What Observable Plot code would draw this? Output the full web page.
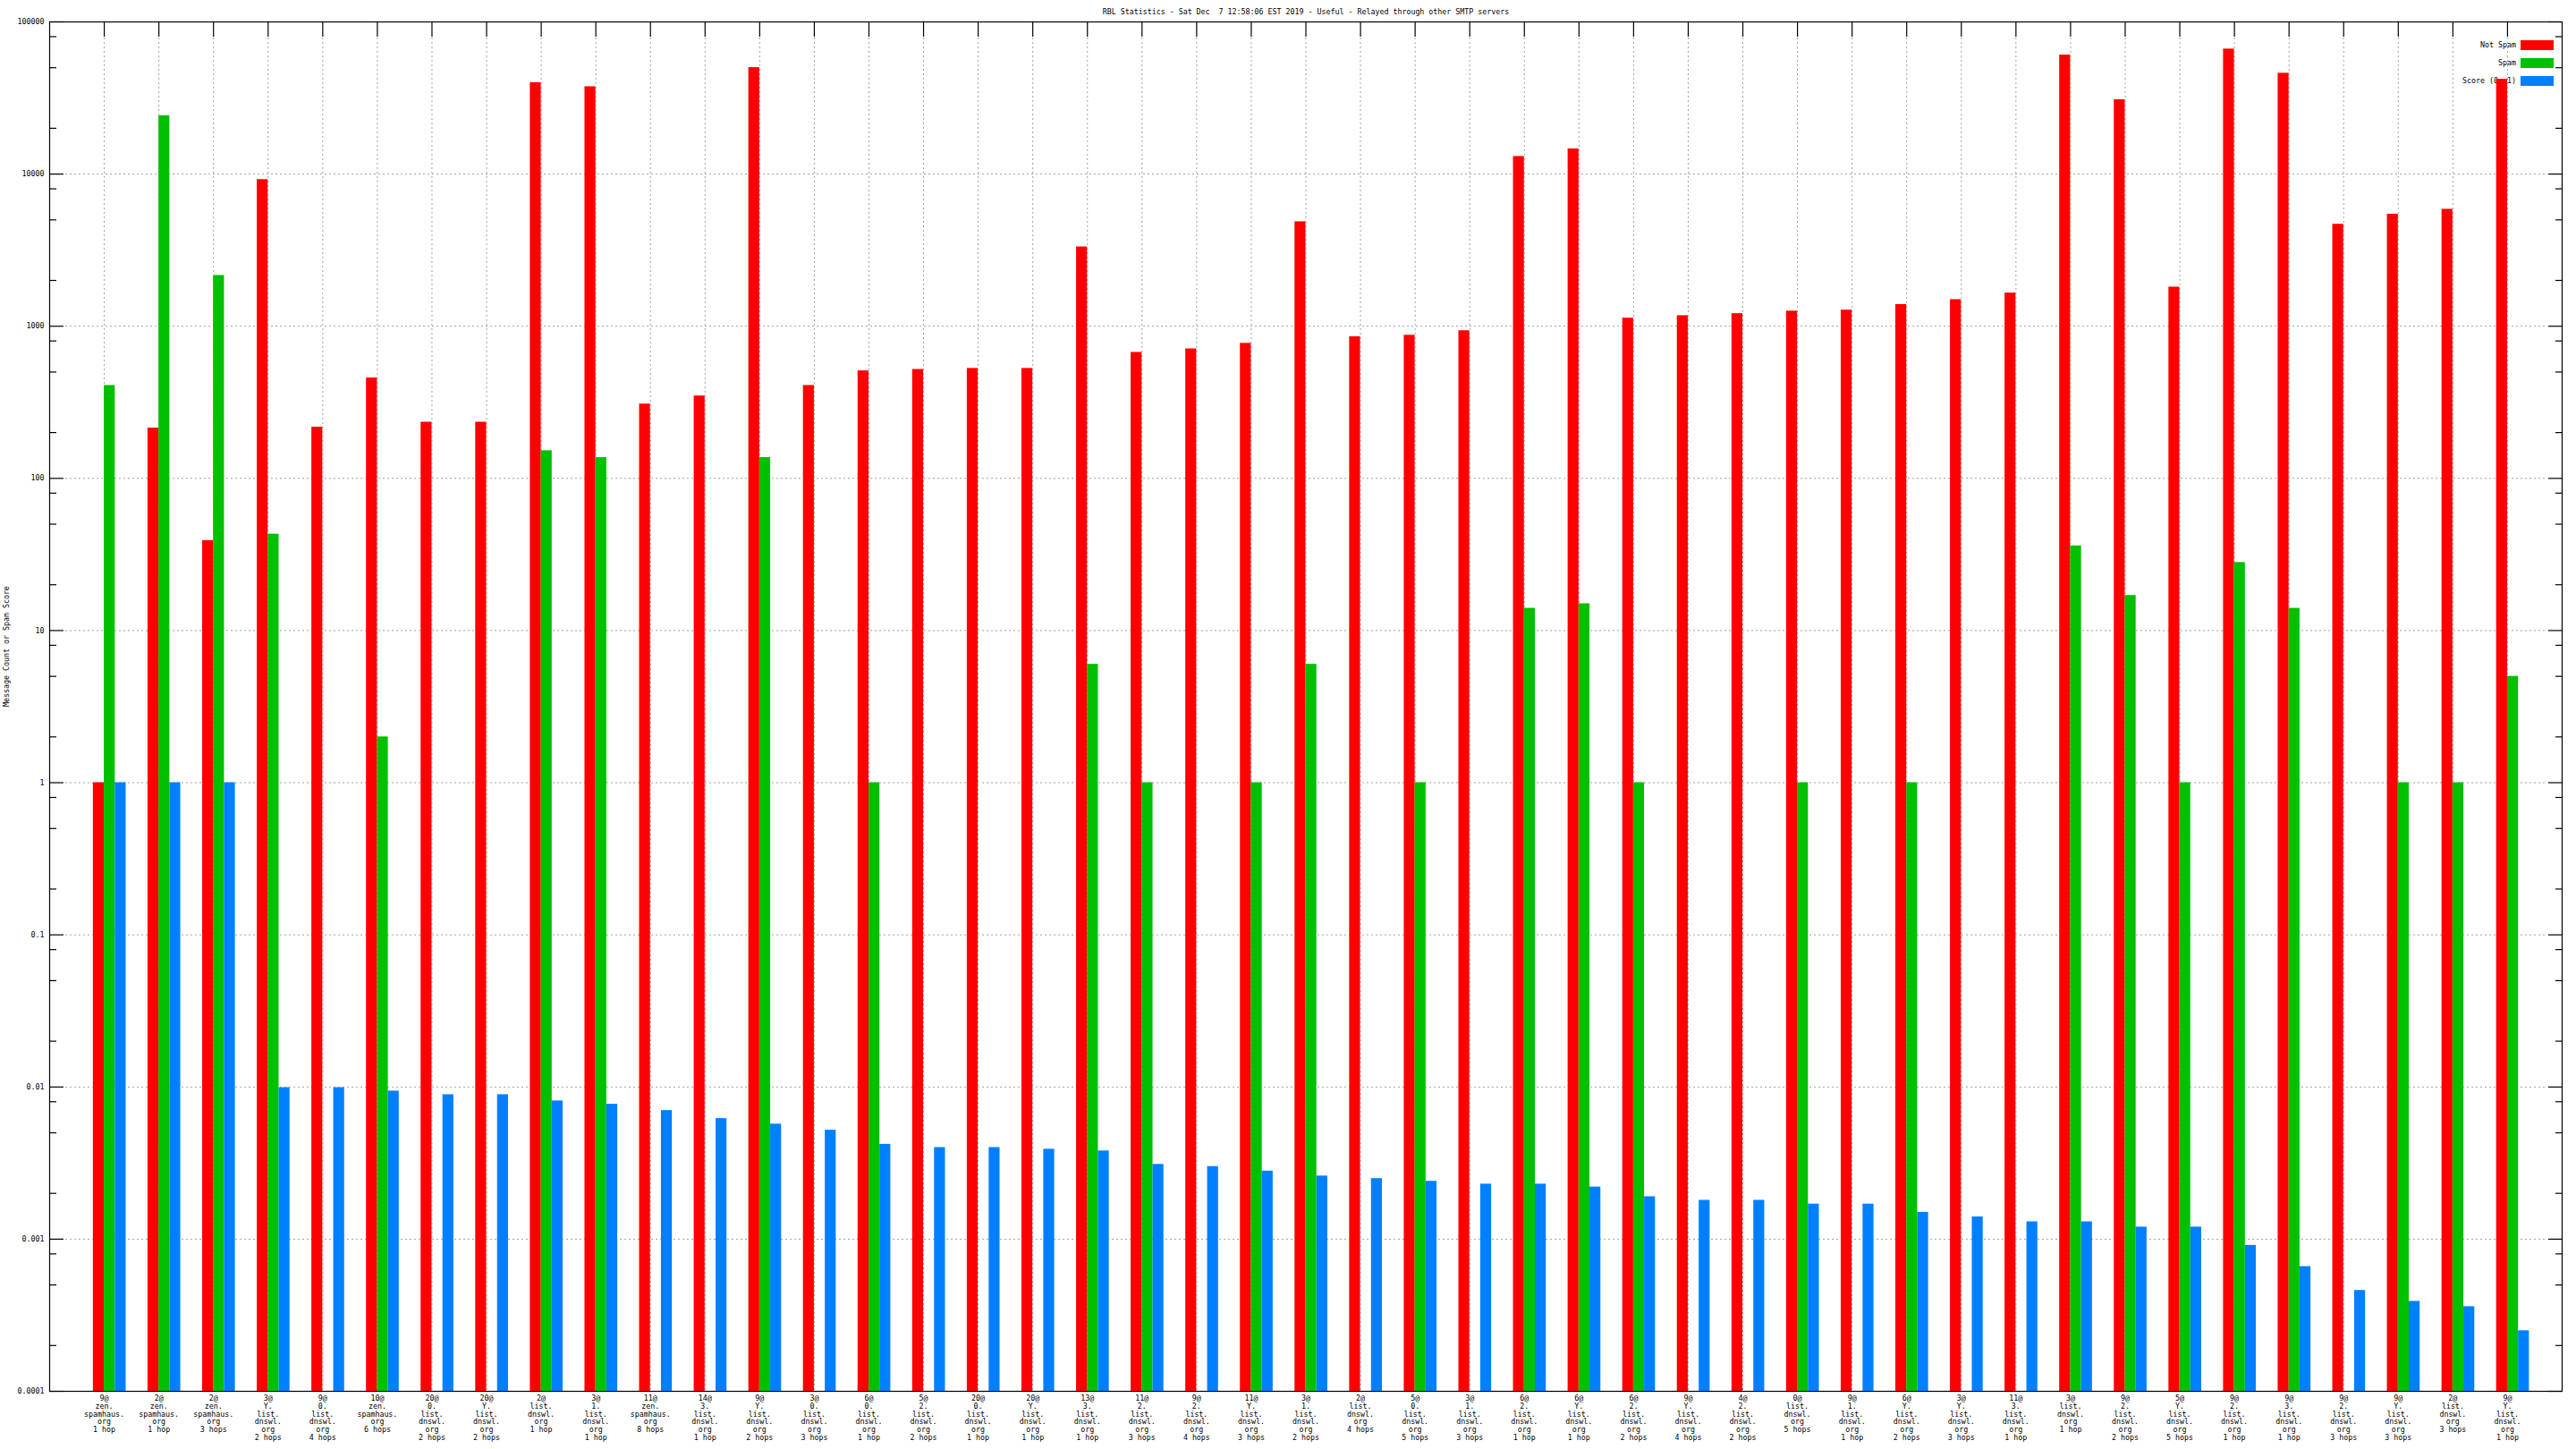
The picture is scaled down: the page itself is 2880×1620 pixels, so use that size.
<!DOCTYPE html>
<html><head><meta charset="utf-8">
<script src="https://cdn.jsdelivr.net/npm/d3@7"></script>
<script src="https://cdn.jsdelivr.net/npm/@observablehq/plot@0.6"></script>
<style>
html,body{margin:0;padding:0;background:#fff;}
</style></head><body>
<div id="chart"></div>
<script>
const title = "RBL Statistics - Sat Dec  7 12:58:06 EST 2019 - Useful - Relayed through other SMTP servers";
const yLabel = "Message Count or Spam Score";
const seriesNames = ["Not Spam", "Spam", "Score (0..1)"];
const seriesColors = ["#ff0000", "#00c000", "#0080ff"];

const categories = [
  "9@\nzen.\nspamhaus.\norg\n1 hop",
  "2@\nzen.\nspamhaus.\norg\n1 hop",
  "2@\nzen.\nspamhaus.\norg\n3 hops",
  "3@\nY.\nlist.\ndnswl.\norg\n2 hops",
  "9@\n0.\nlist.\ndnswl.\norg\n4 hops",
  "10@\nzen.\nspamhaus.\norg\n6 hops",
  "20@\n0.\nlist.\ndnswl.\norg\n2 hops",
  "20@\nY.\nlist.\ndnswl.\norg\n2 hops",
  "2@\nlist.\ndnswl.\norg\n1 hop",
  "3@\n1.\nlist.\ndnswl.\norg\n1 hop",
  "11@\nzen.\nspamhaus.\norg\n8 hops",
  "14@\n3.\nlist.\ndnswl.\norg\n1 hop",
  "9@\nY.\nlist.\ndnswl.\norg\n2 hops",
  "3@\n0.\nlist.\ndnswl.\norg\n3 hops",
  "6@\n0.\nlist.\ndnswl.\norg\n1 hop",
  "5@\n2.\nlist.\ndnswl.\norg\n2 hops",
  "20@\n0.\nlist.\ndnswl.\norg\n1 hop",
  "20@\nY.\nlist.\ndnswl.\norg\n1 hop",
  "13@\n3.\nlist.\ndnswl.\norg\n1 hop",
  "11@\n2.\nlist.\ndnswl.\norg\n3 hops",
  "9@\n2.\nlist.\ndnswl.\norg\n4 hops",
  "11@\nY.\nlist.\ndnswl.\norg\n3 hops",
  "3@\n1.\nlist.\ndnswl.\norg\n2 hops",
  "2@\nlist.\ndnswl.\norg\n4 hops",
  "5@\n0.\nlist.\ndnswl.\norg\n5 hops",
  "3@\n1.\nlist.\ndnswl.\norg\n3 hops",
  "6@\n2.\nlist.\ndnswl.\norg\n1 hop",
  "6@\nY.\nlist.\ndnswl.\norg\n1 hop",
  "6@\n2.\nlist.\ndnswl.\norg\n2 hops",
  "9@\nY.\nlist.\ndnswl.\norg\n4 hops",
  "4@\n2.\nlist.\ndnswl.\norg\n2 hops",
  "0@\nlist.\ndnswl.\norg\n5 hops",
  "9@\n1.\nlist.\ndnswl.\norg\n1 hop",
  "6@\nY.\nlist.\ndnswl.\norg\n2 hops",
  "3@\nY.\nlist.\ndnswl.\norg\n3 hops",
  "11@\n3.\nlist.\ndnswl.\norg\n1 hop",
  "3@\nlist.\ndnswl.\norg\n1 hop",
  "9@\n2.\nlist.\ndnswl.\norg\n2 hops",
  "5@\nY.\nlist.\ndnswl.\norg\n5 hops",
  "9@\n2.\nlist.\ndnswl.\norg\n1 hop",
  "9@\n3.\nlist.\ndnswl.\norg\n1 hop",
  "9@\n2.\nlist.\ndnswl.\norg\n3 hops",
  "9@\nY.\nlist.\ndnswl.\norg\n3 hops",
  "2@\nlist.\ndnswl.\norg\n3 hops",
  "9@\nY.\nlist.\ndnswl.\norg\n1 hop"
];

const notSpam = [1, 214, 39, 9200, 217, 457, 234, 234, 39900, 37500,
  308, 348, 50100, 408, 509, 520, 528, 528, 3320, 673,
  710, 772, 4860, 853, 872, 934, 13050, 14640, 1130, 1173,
  1210, 1257, 1276, 1388, 1496, 1652, 60600, 30800, 1808, 66300,
  46000, 4680, 5450, 5870, 42000];

const spam = [408, 24150, 2155, 43, 0, 2, 0, 0, 152, 137,
  0, 0, 137, 0, 1, 0, 0, 0, 6, 1,
  0, 1, 6, 0, 1, 0, 14, 15, 1, 0,
  0, 1, 0, 1, 0, 0, 36, 17, 1, 28,
  14, 0, 1, 1, 5];

const score = [1, 1, 1, 0.0099, 0.0099, 0.0094, 0.0089, 0.0089, 0.0081, 0.0077,
  0.0070, 0.0062, 0.0057, 0.0052, 0.0042, 0.0040, 0.0040, 0.0039, 0.0038, 0.0031,
  0.0030, 0.0028, 0.0026, 0.0025, 0.0024, 0.0023, 0.0023, 0.0022, 0.0019, 0.0018,
  0.0018, 0.0017, 0.0017, 0.0015, 0.0014, 0.0013, 0.0013, 0.0012, 0.0012, 0.00091,
  0.00066, 0.00046, 0.00039, 0.00036, 0.00025];

const yTicks = [100000, 10000, 1000, 100, 10, 1, 0.1, 0.01, 0.001, 0.0001];
const yTickLabels = ["100000", "10000", "1000", "100", "10", "1", "0.1", "0.01", "0.001", "0.0001"];

// ---- derived tables ----
const positions = categories.map((_, i) => i + 1);
const seriesValues = [notSpam, spam, score];
const barOffset = [-0.2, 0, 0.2];
const barWidth = 0.2;
const base = 1e-4;
const seriesRows = seriesValues.map((vals, s) =>
  vals.map((v, i) => ({k: i + 1, v, s})).filter(d => d.v > 0));
const minorTicks = yTicks.slice(1).flatMap(t => [2, 5, 8].map(m => t * m));

const FONT = "DejaVu Sans Mono, monospace";
const FS = 8.3;
const gridStyle = {stroke: "#a0a0a0", strokeOpacity: 1, strokeDasharray: "2,3", strokeWidth: 1};

const plot = Plot.plot({
  width: 2880,
  height: 1620,
  marginLeft: 55,
  marginRight: 16,
  marginTop: 24,
  marginBottom: 65,
  style: {fontFamily: FONT, fontSize: FS + "px", background: "#fff", color: "#000"},
  x: {type: "linear", domain: [0, positions.length + 1]},
  y: {type: "log", domain: [base, yTicks[0]]},
  marks: [
    Plot.gridY({ticks: yTicks, ...gridStyle, insetLeft: 18, insetRight: 18}),
    Plot.gridX({ticks: positions, ...gridStyle, insetTop: 18}),
    Plot.axisY({ticks: yTicks, tickFormat: d => yTickLabels[yTicks.indexOf(d)], tickSize: 0, tickPadding: 6, stroke: "none", label: null, fontSize: FS}),
    Plot.axisY({ticks: yTicks, tickSize: -16, fill: "none", label: null, strokeWidth: 1.2}),
    Plot.axisY({ticks: minorTicks, tickSize: -8, fill: "none", label: null, strokeWidth: 1.2}),
    Plot.axisY({anchor: "right", ticks: yTicks, tickSize: -16, fill: "none", label: null, strokeWidth: 1.2}),
    Plot.axisY({anchor: "right", ticks: minorTicks, tickSize: -8, fill: "none", label: null, strokeWidth: 1.2}),
    Plot.axisX({ticks: positions, tickFormat: k => categories[k - 1], tickSize: 0, tickPadding: 4, stroke: "none", label: null, lineHeight: 1.07, fontSize: FS}),
    Plot.axisX({anchor: "top", ticks: positions, tickSize: -16, fill: "none", label: null, strokeWidth: 1.2}),
    ...seriesRows.map((rows, s) => Plot.rect(rows, {
      x1: d => d.k + barOffset[d.s],
      x2: d => d.k + barOffset[d.s] + barWidth,
      y1: () => base,
      y2: "v",
      fill: seriesColors[s]
    })),
    Plot.frame({stroke: "#000", strokeWidth: 1.2}),
    Plot.text([title], {frameAnchor: "top", dy: -14, fontSize: FS}),
    Plot.text([yLabel], {frameAnchor: "left", dx: -48, rotate: -90, fontSize: FS})
  ]
});

const svg = d3.select(plot);
svg.selectAll("text").filter(function() { return this.textContent === title; }).style("white-space", "pre");

const legend = svg.append("g").attr("class", "legend").attr("font-family", FONT).attr("font-size", FS);
seriesNames.forEach((name, i) => {
  const cy = 50.5 + i * 20;
  legend.append("text").attr("x", 2813).attr("y", cy).attr("dy", "0.32em")
    .attr("text-anchor", "end").attr("fill", "#000").text(name);
  legend.append("rect").attr("x", 2818).attr("y", cy - 5.5).attr("width", 37).attr("height", 11)
    .attr("fill", seriesColors[i]);
});
svg.selectAll('g[aria-label="rect"]').raise();
svg.selectAll('g[aria-label="frame"]').raise();

document.getElementById("chart").appendChild(plot);
</script>
</body></html>
